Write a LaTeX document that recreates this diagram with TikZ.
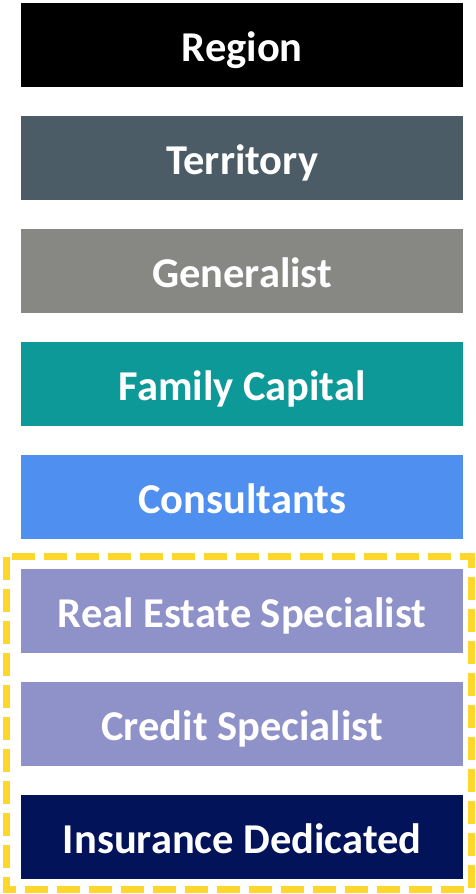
\documentclass[tikz,border=0pt]{standalone}
\usepackage{fontspec}
\setmainfont{Carlito}
\definecolor{cRegion}{HTML}{000000}
\definecolor{cTerr}{HTML}{4B5C66}
\definecolor{cGen}{HTML}{878784}
\definecolor{cFam}{HTML}{0E9999}
\definecolor{cCons}{HTML}{4F8FEF}
\definecolor{cSpec}{HTML}{8F92C9}
\definecolor{cIns}{HTML}{03135A}
\definecolor{cYel}{HTML}{FFD62B}
\begin{document}
\begin{tikzpicture}[x=1pt,y=-1pt,
  tier/.style={fill=#1, draw=none, minimum width=442pt, minimum height=84pt,
    inner sep=0pt, text height=32pt, text depth=0pt, text=white,
    font=\fontsize{42.5}{46}\selectfont\bfseries, anchor=north west}]
\useasboundingbox (0,0) rectangle (475,894);
\node[tier=cRegion] (region) at (21,3) {Region};
\node[tier=cTerr] (terr) at (21,116) {Territory};
\node[tier=cGen] (gen) at (21,229) {Generalist};
\node[tier=cFam] (fam) at (21,342) {Family Capital};
\node[tier=cCons] (cons) at (21,455) {Consultants};
\node[tier=cSpec] (re) at (21,569) {Real Estate Specialist};
\node[tier=cSpec] (credit) at (21,682) {Credit Specialist};
\node[tier=cIns] (ins) at (21,795) {Insurance Dedicated};
\draw[cYel, line width=7pt, dash pattern=on 23pt off 9pt] (6,556.5) rectangle (471.5,889.5);
\end{tikzpicture}
\end{document}
